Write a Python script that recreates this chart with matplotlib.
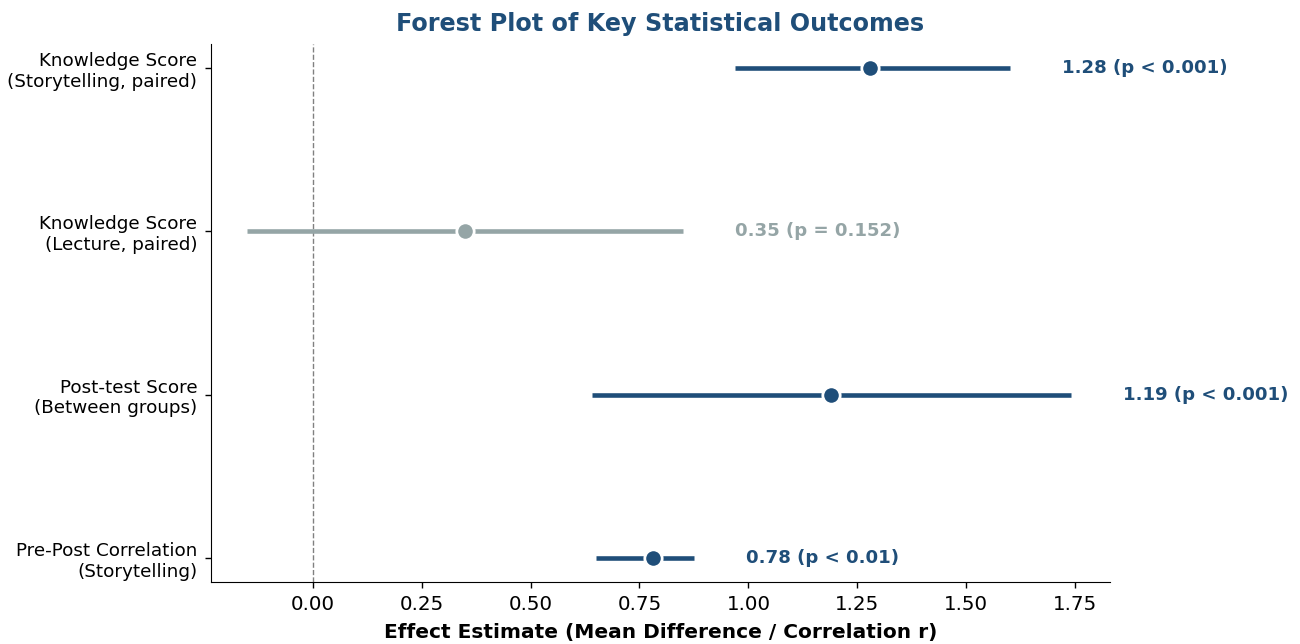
import matplotlib
matplotlib.use("Agg")
import matplotlib.pyplot as plt

# outcomes, top to bottom
labels = ["Knowledge Score\n(Storytelling, paired)",
          "Knowledge Score\n(Lecture, paired)",
          "Post-test Score\n(Between groups)",
          "Pre-Post Correlation\n(Storytelling)"]
estimates = [1.28, 0.35, 1.19, 0.78]
ci_low = [0.97, -0.15, 0.64, 0.65]
ci_high = [1.60, 0.85, 1.74, 0.875]
annotations = ["1.28 (p < 0.001)", "0.35 (p = 0.152)",
               "1.19 (p < 0.001)", "0.78 (p < 0.01)"]
significant = [True, False, True, True]

blue = "#1f4e79"
gray = "#95a5a6"

fig, ax = plt.subplots(figsize=(13, 6.44), dpi=100)
fig.subplots_adjust(left=0.162, right=0.854, top=0.932, bottom=0.096)

ys = list(range(len(labels)))
for y, est, lo, hi, txt, sig in zip(ys, estimates, ci_low, ci_high, annotations, significant):
    c = blue if sig else gray
    ax.plot([lo, hi], [y, y], color=c, lw=3.3, solid_capstyle="butt", zorder=2)
    ax.plot(est, y, "o", color=c, markersize=12.5, markeredgecolor="white",
            markeredgewidth=2, zorder=3)
    ax.text(hi + 0.12, y, txt, color=c, fontsize=13.1, fontweight="bold",
            va="center", ha="left", clip_on=False)

ax.axvline(0, color="gray", ls="--", lw=1, zorder=1)
ax.set_yticks(ys)
ax.set_yticklabels(labels, fontsize=13.2)
ax.invert_yaxis()
ax.set_xlim(-0.234, 1.83)
ax.set_xticks([0, 0.25, 0.5, 0.75, 1.0, 1.25, 1.5, 1.75])
ax.set_xticklabels(["0.00", "0.25", "0.50", "0.75", "1.00", "1.25", "1.50", "1.75"], fontsize=14.3)
ax.tick_params(length=4.5, width=1, pad=5)
ax.set_xlabel("Effect Estimate (Mean Difference / Correlation r)", fontsize=14.5,
              fontweight="bold", labelpad=6)
ax.set_title("Forest Plot of Key Statistical Outcomes", fontsize=17.2, fontweight="bold",
             color=blue, pad=9)
ax.spines["top"].set_visible(False)
ax.spines["right"].set_visible(False)

plt.savefig("out.png")
